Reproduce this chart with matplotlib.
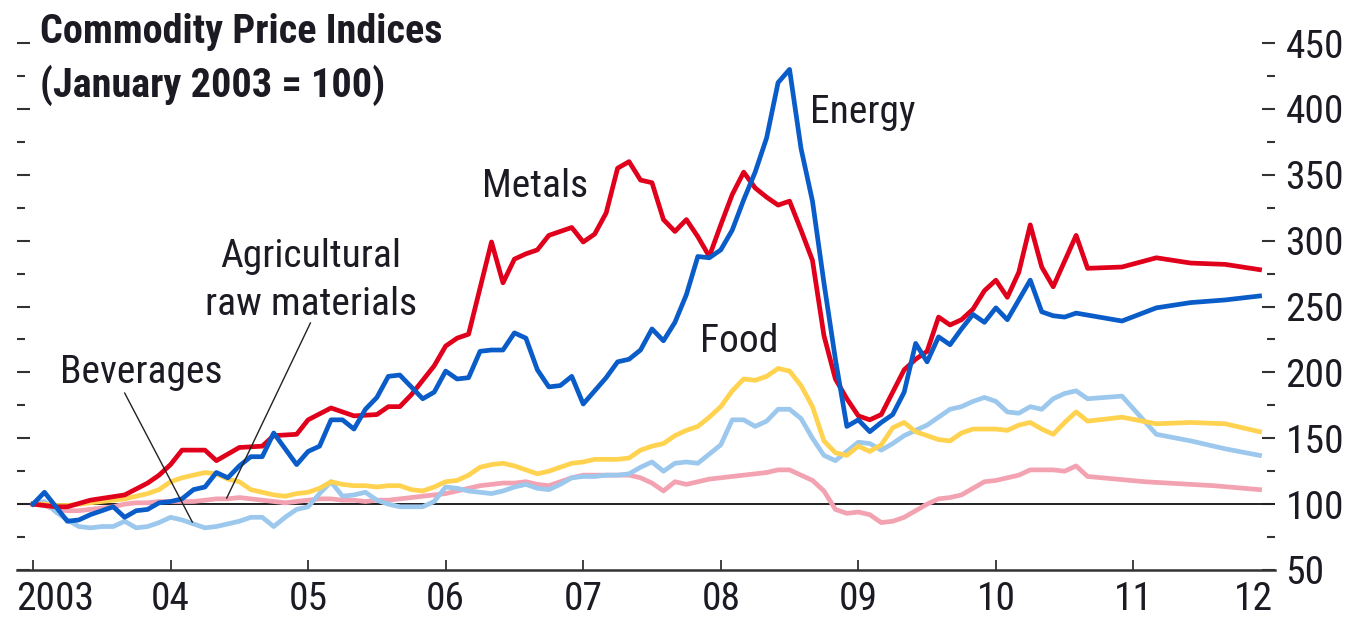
import os
import matplotlib
matplotlib.use('Agg')
import matplotlib.pyplot as plt
from matplotlib import font_manager as fm
from matplotlib.ticker import MultipleLocator, FixedLocator

# ---------------- fonts: look for a narrow / condensed sans ----------------
files = {os.path.basename(f.fname).lower(): f.fname for f in fm.fontManager.ttflist}


def find_font(cands, must=None):
    for c in cands:
        if c.lower() in files:
            return files[c.lower()]
    if must is not None:
        for k, v in sorted(files.items()):
            if must(k):
                return v
    return None


reg_file = find_font(
    ['LiberationSansNarrow-Regular.ttf', 'RobotoCondensed-Regular.ttf',
     'NotoSans-Condensed.ttf', 'OpenSans-CondensedRegular.ttf',
     'OpenSans_Condensed-Regular.ttf', 'DejaVuSansCondensed.ttf'],
    must=lambda k: ('narrow' in k or 'condensed' in k) and 'bold' not in k
    and 'italic' not in k and 'oblique' not in k and 'extra' not in k
    and 'semi' not in k and 'light' not in k and 'mono' not in k and 'serif' not in k)
bold_file = find_font(
    ['LiberationSansNarrow-Bold.ttf', 'RobotoCondensed-Bold.ttf',
     'NotoSans-CondensedBold.ttf', 'OpenSans-CondensedBold.ttf',
     'OpenSans_Condensed-Bold.ttf', 'DejaVuSansCondensed-Bold.ttf'],
    must=lambda k: ('narrow' in k or 'condensed' in k) and 'bold' in k
    and 'italic' not in k and 'oblique' not in k and 'extra' not in k
    and 'semi' not in k and 'mono' not in k and 'serif' not in k)


def fprop(fname, bold=False):
    if fname:
        return fm.FontProperties(fname=fname)
    return fm.FontProperties(family='DejaVu Sans', stretch='condensed',
                             weight='bold' if bold else 'normal')


# ---------------- data (month index: 0 = Jan 2003) ----------------
metals_m = [0, 1, 2, 3, 5, 8, 10, 11, 12, 13, 15, 16, 17, 18, 20, 21, 23, 24, 26, 28,
            30, 31, 32, 33, 35, 36, 37, 38, 40, 41, 42, 43, 44, 45, 47, 48, 49, 50, 51, 52,
            53, 54, 55, 56, 57, 58, 59, 60, 61, 62, 63, 64, 65, 66, 67, 68, 69, 70, 71, 72,
            73, 74, 75, 76, 77, 78, 79, 80, 81, 82, 83, 84, 85, 86, 87, 88, 89, 91, 92, 95,
            98, 101, 104, 107]
metals = [100, 99, 98, 98, 103, 107, 116, 122, 130, 141, 141, 133, 138, 143, 144, 152, 153, 164, 173, 167,
          168, 174, 174, 183, 205, 220, 226, 229, 299, 268, 286, 290, 293, 304, 310, 299, 305, 321, 355, 360,
          346, 344, 316, 307, 316, 303, 288, 312, 335, 352, 340, 333, 327, 330, 308, 285, 228, 195, 180, 167,
          164, 168, 185, 202, 210, 216, 242, 236, 240, 248, 262, 270, 257, 276, 312, 280, 265, 304, 279, 280,
          287, 283, 282, 278]

energy_m = list(range(0, 92)) + [95, 98, 101, 104, 107]
energy = [100, 109, 98, 87, 88, 92, 95, 98, 90, 95,
          96, 101, 102, 104, 111, 113, 124, 120, 129, 136,
          136, 154, 142, 130, 140, 144, 164, 164, 157, 172,
          181, 197, 198, 189, 180, 185, 201, 195, 196, 216,
          217, 217, 230, 226, 202, 189, 190, 197, 176, 186,
          196, 208, 210, 217, 233, 224, 238, 259, 288, 287,
          293, 308, 331, 352, 378, 420, 430, 370, 330, 268,
          210, 159, 164, 155, 162, 168, 185, 222, 208, 227,
          221, 233, 244, 238, 249, 240, 255, 270, 246, 243,
          242, 245, 239, 249, 253, 255, 258]

food_m = list(range(0, 93)) + [95, 98, 101, 104, 107]
food = [100, 100, 99, 99, 100, 101, 102, 103, 104, 106,
        108, 111, 117, 120, 122, 124, 123, 119, 117, 111,
        109, 107, 106, 108, 109, 112, 117, 115, 114, 114,
        113, 114, 114, 111, 110, 113, 117, 118, 122, 128,
        130, 131, 129, 126, 123, 125, 128, 131, 132, 134,
        134, 134, 135, 141, 144, 146, 152, 156, 159, 166,
        174, 186, 195, 194, 197, 203, 201, 190, 174, 148,
        139, 137, 144, 140, 145, 158, 162, 155, 152, 149,
        148, 154, 157, 157, 157, 156, 160, 162, 157, 153,
        162, 170, 163, 166, 161, 162, 161, 155]

beverages_m = list(range(0, 93)) + [95, 98, 101, 104, 107]
beverages = [100, 102, 94, 88, 83, 82, 83, 83, 87, 82,
             83, 86, 90, 88, 85, 82, 83, 85, 87, 90,
             90, 83, 90, 96, 98, 108, 117, 106, 107, 109,
             103, 100, 98, 98, 98, 102, 113, 112, 110, 109,
             108, 110, 113, 115, 112, 111, 115, 120, 121, 121,
             122, 122, 123, 128, 132, 125, 131, 132, 131, 138,
             145, 164, 164, 159, 163, 172, 172, 165, 150, 137,
             133, 140, 147, 146, 141, 146, 152, 156, 160, 166,
             172, 174, 178, 181, 178, 170, 169, 174, 172, 180,
             184, 186, 180, 182, 153, 148, 142, 137]

agri_m = list(range(0, 93)) + [97, 103, 107]
agri = [100, 99, 96, 95, 95, 96, 97, 98, 100, 101,
        101, 102, 102, 102, 102, 103, 104, 104, 105, 104,
        103, 102, 101, 102, 103, 104, 104, 103, 103, 102,
        103, 103, 104, 105, 106, 107, 108, 110, 112, 114,
        115, 116, 116, 117, 115, 114, 117, 120, 122, 122,
        122, 122, 122, 120, 116, 110, 117, 115, 117, 119,
        120, 121, 122, 123, 124, 126, 126, 122, 118, 110,
        96, 93, 94, 92, 86, 87, 90, 95, 100, 104,
        105, 107, 112, 117, 118, 120, 122, 126, 126, 126,
        125, 129, 121, 117, 114, 111]

year_labels = ['2003', '04', '05', '06', '07', '08', '09', '10', '11', '12']
y_ticks = [50, 100, 150, 200, 250, 300, 350, 400, 450]

# ---------------- figure ----------------
W, H = 1348, 617
fig = plt.figure(figsize=(W / 100, H / 100), dpi=100)
renderer = fig.canvas.get_renderer()


def fit_size(fp, s, target_px, cap=29.0):
    t = fig.text(0, 0, s, fontproperties=fp, fontsize=20)
    w = t.get_window_extent(renderer=renderer).width
    t.remove()
    return min(cap, 20 * target_px / w)


FP_REG = fprop(reg_file)
FP_BOLD = fprop(bold_file, bold=True)
FS = fit_size(FP_REG, 'raw materials', 211)
FS_B = fit_size(FP_BOLD, 'Commodity Price Indices', 403)


def P(fp, size):
    p = fp.copy()
    p.set_size(size)
    return p


ax = fig.add_axes([17 / W, 1 - 570 / H, (1275 - 17) / W, (570 - 15) / H])
ax.set_xlim(-1.395, 108.35)
ax.set_ylim(50, 471.3)

TXT = '#1c1a22'
LW = 3.4

ax.plot(agri_m, agri, color='#F3A2B2', lw=LW, zorder=3)
ax.plot(beverages_m, beverages, color='#9CC8EE', lw=LW, zorder=4)
ax.plot(food_m, food, color='#FFD24F', lw=LW, zorder=4.5)
ax.plot(metals_m, metals, color='#E1001B', lw=LW, zorder=5)
ax.plot(energy_m, energy, color='#0A5CC8', lw=LW, zorder=6)

ax.axhline(100, color='#222222', lw=1.4, zorder=2)

for s in ['top', 'left', 'right']:
    ax.spines[s].set_visible(False)
ax.spines['bottom'].set_color('#333333')
ax.spines['bottom'].set_linewidth(1.8)

# x ticks and labels
ax.xaxis.set_major_locator(FixedLocator([12 * i for i in range(9)]))
ax.tick_params(axis='x', direction='in', length=7.5, width=1.3, color='#333333',
               labelbottom=False)
offsets = {0: 22, 9: -18}
for i, lab in enumerate(year_labels):
    ax.annotate(lab, xy=(12 * i, 0), xycoords=('data', 'axes fraction'),
                xytext=(offsets.get(i, 0), -40), textcoords='offset pixels',
                ha='center', va='baseline', fontproperties=P(FP_REG, FS), color=TXT)

# y ticks and labels (right)
ax.yaxis.set_major_locator(FixedLocator(y_ticks))
ax.yaxis.set_minor_locator(MultipleLocator(25))
ax.tick_params(axis='y', which='both', direction='in', left=True, right=True,
               labelleft=False, labelright=True, color='#333333', width=1.5)
ax.tick_params(axis='y', which='major', length=9.4, pad=7.5, labelcolor=TXT)
ax.tick_params(axis='y', which='minor', length=5.8)
ax.set_yticks(y_ticks)
ax.set_yticklabels([str(v) for v in y_ticks], fontproperties=P(FP_REG, FS))

# title
fig.text(40 / W, 1 - 43 / H, 'Commodity Price Indices', fontproperties=P(FP_BOLD, FS_B),
         color=TXT, ha='left', va='baseline')
fig.text(40 / W, 1 - 97 / H, '(January 2003 = 100)', fontproperties=P(FP_BOLD, FS_B),
         color=TXT, ha='left', va='baseline')


def lab(px, py, s, ha='left'):
    fig.text(px / W, 1 - py / H, s, fontproperties=P(FP_REG, FS), color=TXT,
             ha=ha, va='baseline')


lab(482, 197, 'Metals')
lab(810, 123, 'Energy')
lab(700, 352, 'Food')
lab(60, 383, 'Beverages')
lab(311, 267, 'Agricultural', ha='center')
lab(311, 315, 'raw materials', ha='center')

# leader lines (month, index)
ax.plot([8.0, 13.9], [184.3, 86.4], color='#222222', lw=1.0, zorder=7)
ax.plot([24.2, 16.9], [237.5, 104.6], color='#222222', lw=1.0, zorder=7)

fig.savefig('out.png', dpi=100)
